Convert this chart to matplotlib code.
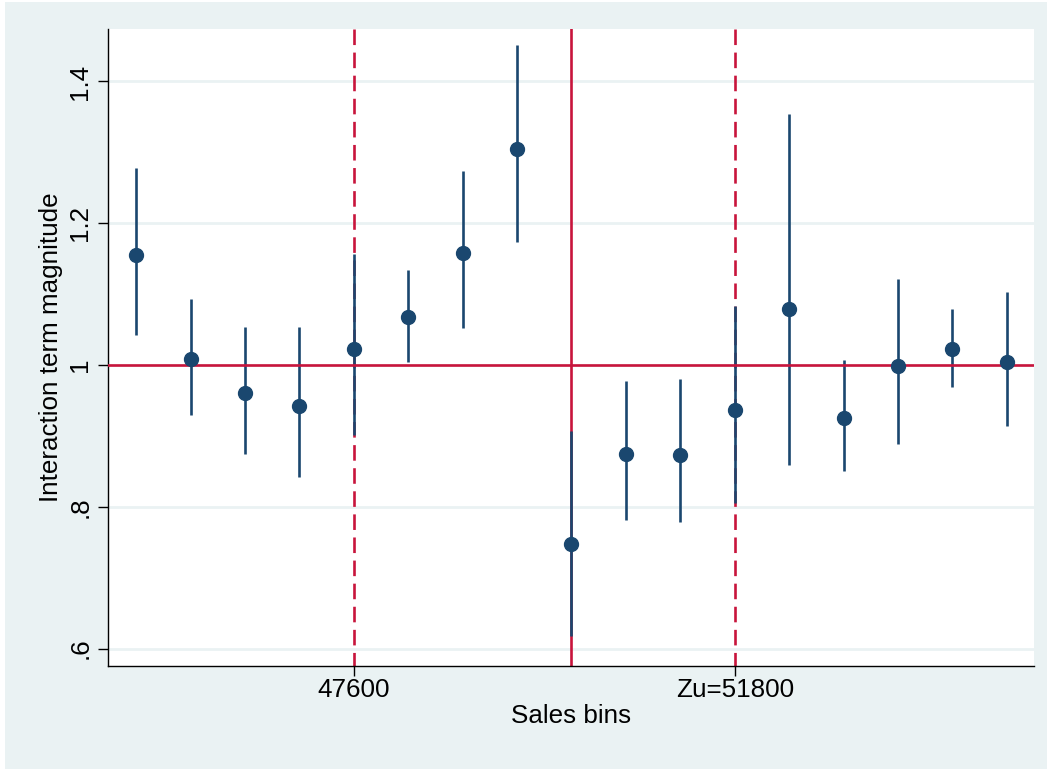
import matplotlib
matplotlib.use("Agg")
import matplotlib.pyplot as plt
from matplotlib.patches import Rectangle

# sales bins (bin start), 600 wide
sales_bins = [45200, 45800, 46400, 47000, 47600, 48200, 48800, 49400, 50000,
              50600, 51200, 51800, 52400, 53000, 53600, 54200, 54800]
# point estimates and 95% CI
estimate = [1.155, 1.008, 0.960, 0.942, 1.022, 1.068, 1.158, 1.305, 0.748,
            0.875, 0.873, 0.936, 1.079, 0.926, 0.999, 1.023, 1.004]
ci_low = [1.043, 0.930, 0.874, 0.842, 0.901, 1.005, 1.052, 1.174, 0.618,
          0.781, 0.778, 0.806, 0.859, 0.851, 0.889, 0.969, 0.914]
ci_high = [1.278, 1.093, 1.054, 1.054, 1.157, 1.134, 1.274, 1.452, 0.907,
           0.978, 0.980, 1.083, 1.354, 1.007, 1.121, 1.079, 1.103]

y_ticks = [0.6, 0.8, 1.0, 1.2, 1.4]
y_ticklabels = [".6", ".8", "1", "1.2", "1.4"]
x_ticks = [47600, 51800]
x_ticklabels = ["47600", "Zu=51800"]
zl = 51800
zl_low = 47600
cutoff = 50000

navy = "#1A476F"
red = "#C8143C"
bg = "#EAF2F3"

plt.rcParams["font.family"] = ["Liberation Sans", "DejaVu Sans"]

fig = plt.figure(figsize=(10.47, 7.69), dpi=100, facecolor="white")
fig.patches.append(Rectangle((5 / 1047, 0), 1, 1 - 2 / 769, transform=fig.transFigure,
                             facecolor=bg, edgecolor="none", zorder=-10))
ax = fig.add_axes([108 / 1047, 1 - 665.5 / 769, (1034 - 108) / 1047, (665.5 - 29) / 769])
ax.set_facecolor("white")

# reference lines (dashes drawn from the top down, like stata)
xt = ax.get_xaxis_transform()
for x in [zl_low, zl]:
    ax.plot([x, x], [1, 0], transform=xt, color=red, lw=1.9,
            ls=(0, (5.9, 2.85)), zorder=1)
ax.axvline(cutoff, color=red, lw=1.9, zorder=1)

for y in y_ticks:
    ax.axhline(y, color=bg, lw=2, zorder=0)

ax.vlines(sales_bins, ci_low, ci_high, color=navy, lw=1.9, zorder=2)
ax.axhline(1, color=red, lw=1.9, zorder=3)
ax.plot(sales_bins, estimate, "o", color=navy, ms=10, zorder=4)

ax.set_xlim(44890, 55100)
ax.set_ylim(0.5762, 1.474)

ax.set_yticks(y_ticks)
ax.set_yticklabels(y_ticklabels, rotation=90, va="center", fontsize=18.7)
ax.set_xticks(x_ticks)
ax.set_xticklabels(x_ticklabels, fontsize=18.7)
ax.tick_params(axis="both", length=7.2, width=1, color="black", pad=2)
ax.tick_params(axis="y", pad=4)

ax.set_xlabel("Sales bins", fontsize=18.7, labelpad=1)
ax.set_ylabel("Interaction term magnitude", fontsize=18.7, labelpad=4)

for side in ["top", "right"]:
    ax.spines[side].set_visible(False)
for side in ["left", "bottom"]:
    ax.spines[side].set_linewidth(1)
    ax.spines[side].set_color("black")

fig.savefig("out.png", dpi=100, facecolor=fig.get_facecolor())
